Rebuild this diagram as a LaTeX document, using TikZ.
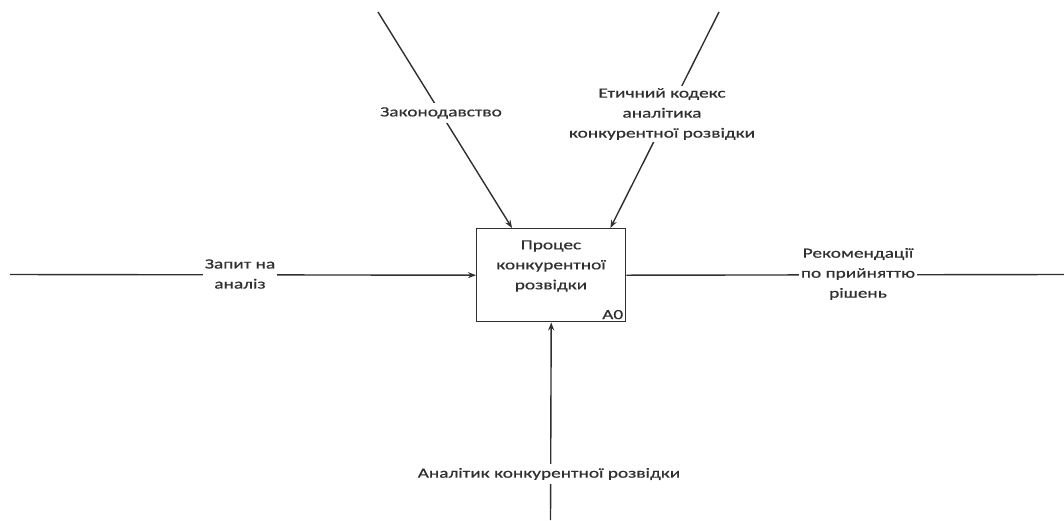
\documentclass[tikz,border=0pt]{standalone}
\usepackage{fontspec}
\setmainfont{Carlito}[FakeStretch=1.38,FakeBold=0.6]
\usetikzlibrary{arrows.meta,calc}
\definecolor{ink}{HTML}{303030}
\begin{document}
\begin{tikzpicture}[x=1pt,y=-1pt,
  flow/.style={draw=ink,line width=1.4pt},
  arr/.style={flow,-{Stealth[length=8pt,width=6pt]}},
  lbl/.style={fill=white,align=center,inner sep=2pt,text=ink,
              font=\fontsize{14}{20}\selectfont},
  actbox/.style={draw=ink,line width=1.4pt,minimum width=149pt,
                 minimum height=93pt,anchor=north west,inner sep=0pt}]
\useasboundingbox (0,0) rectangle (1064,520);
% activity box
\node[actbox] (act) at (476,228) {};
\node[text=ink,align=center,font=\fontsize{14}{20}\selectfont] (acttext) at (551,266)
  {Процес\\конкурентної\\розвідки};
\node[anchor=south east,text=ink,inner sep=3pt,font=\fontsize{14}{16}\selectfont] (node) at (act.south east) {A0};
% free ends of the arrows
\coordinate (inS) at (10,274.5);
\coordinate (outE) at (1064,274.5);
\coordinate (ctlA) at (378,12);
\coordinate (ctlB) at (719,12);
\coordinate (mechS) at (550.5,520);
% arrows
\draw[arr] (inS) -- (act.west);
\draw[flow] (act.east) -- (outE);
\draw[arr] (ctlA) -- ($(act.north west)+(36,0)$);
\draw[arr] (ctlB) -- ($(act.north east)+(-16,0)$);
\draw[arr] (mechS) -- (act.south);
% arrow labels
\node[lbl] (lin) at (240,274) {Запит на\\аналіз};
\node[lbl] (lout) at (858,274) {Рекомендації\\по прийняттю\\рішень};
\node[lbl,inner sep=4pt] (lctlA) at (441,113) {Законодавство};
\node[lbl] (lctlB) at (662,114) {Етичний кодекс\\аналітика\\конкурентної розвідки};
\node[lbl,inner sep=4pt] (lmech) at (549,474) {Аналітик конкурентної розвідки};
\end{tikzpicture}
\end{document}
